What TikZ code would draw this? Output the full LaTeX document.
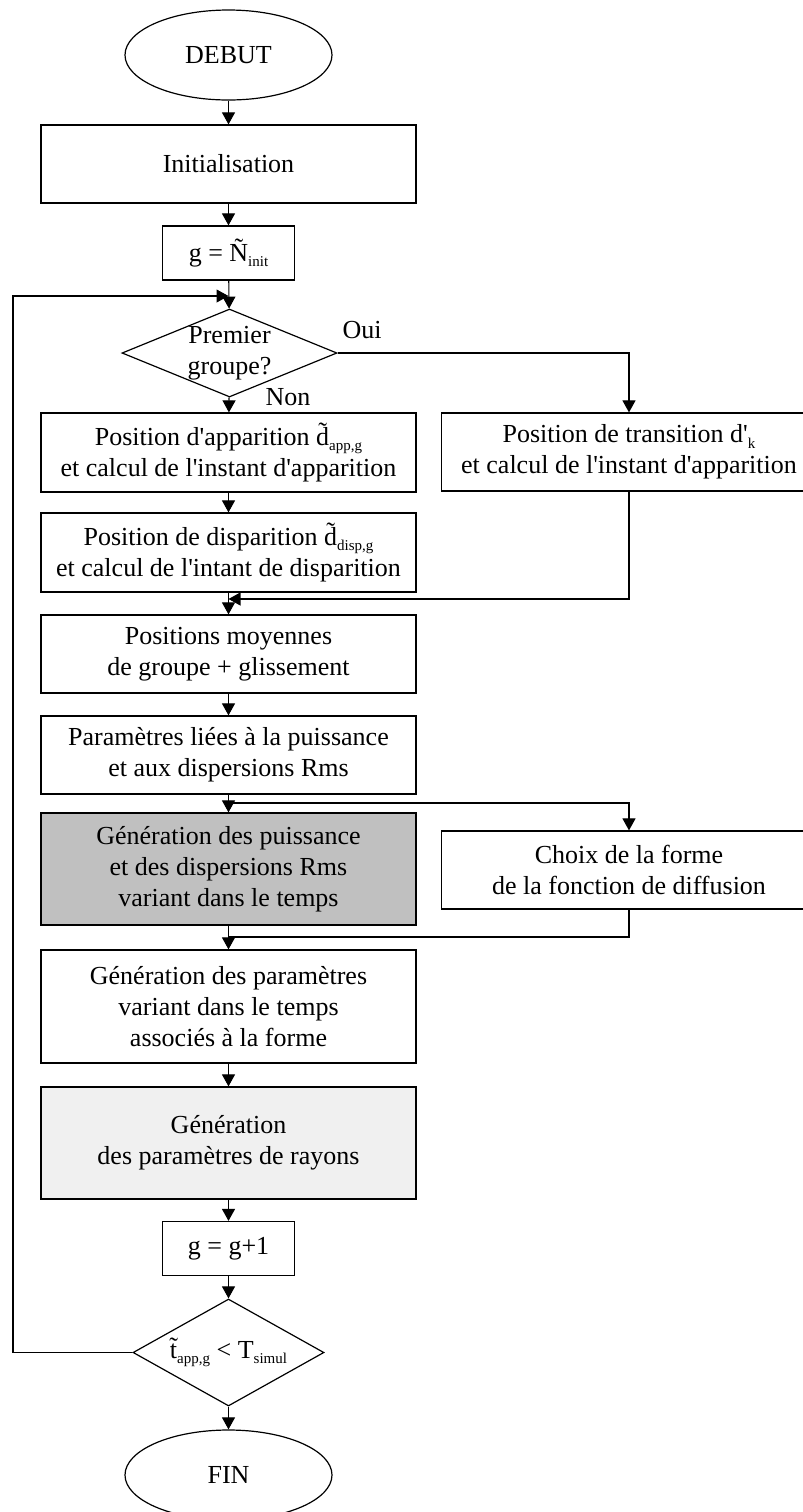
\documentclass[tikz,border=0pt]{standalone}
\usepackage{fontspec}
\setmainfont{Liberation Serif}
\usepackage{xcolor}
\usepackage{tikz}
\usetikzlibrary{positioning, arrows.meta, shapes.geometric}

\definecolor{boxdark}{RGB}{192,192,192}
\definecolor{boxlight}{RGB}{240,240,240}
\newcommand\tld[1]{{\accent"02DC #1}}
\newcommand\lowidx[1]{\raisebox{-0.45ex}{\fontsize{7.5}{8}\selectfont #1}}
\newcommand\apos{\textquotesingle}

\begin{document}
\begin{tikzpicture}[
  x=0.5pt, y=-0.5pt,
  font=\fontsize{13}{15.5}\selectfont,
  proc/.style={rectangle, draw, fill=white, line width=0.6pt,
               minimum width=187.5pt, minimum height=39pt, align=center,
               inner sep=2pt},
  small/.style={rectangle, draw, fill=white, line width=0.6pt,
                minimum width=66pt, minimum height=27pt, inner sep=2pt},
  term/.style={ellipse, draw, line width=0.6pt, minimum width=103.5pt,
               minimum height=45pt, inner sep=0pt},
  decision/.style={diamond, draw, line width=0.6pt, inner sep=0pt},
  arrow/.style={-{Triangle[length=6pt, width=6.5pt]}, line width=0.55pt},
  line/.style={line width=0.55pt},
]
\useasboundingbox (0,0) rectangle (803,1512);

\node[term] at (228.5, 55) (debut) {DEBUT};
\node[proc] at (228.5, 164) (init) {Initialisation};
\node[small] at (228.5, 253) (gN) {g = \tld{N}\lowidx{init}};

\node[decision, minimum width=107.5pt, minimum height=44pt,
      label={[align=center]center:Premier\\groupe?}] at (229.5, 353) (prem) {};
\node at (362, 330) (oui) {Oui};
\node at (288, 397) (non) {Non};

\node[proc, minimum height=39.5pt] at (228.5, 452.5) (app)
  {Position d\apos apparition \tld{d}\lowidx{app,g}\\et calcul de l\apos instant d\apos apparition};
\node[proc] at (629, 452) (trans)
  {Position de transition d\apos\lowidx{k}\\et calcul de l\apos instant d\apos apparition};
\node[proc, minimum height=39.5pt] at (228.5, 552.5) (disp)
  {Position de disparition \tld{d}\lowidx{disp,g}\\et calcul de l\apos intant de disparition};
\node[proc] at (228.5, 654) (moy) {Positions moyennes\\de groupe + glissement};
\node[proc] at (228.5, 755) (param)
  {Paramètres liées à la puissance\\et aux dispersions Rms};
\node[proc, fill=boxdark, minimum height=56pt] at (228.5, 869) (genp)
  {Génération des puissance\\et des dispersions Rms\\ variant dans le temps};
\node[proc] at (629, 870) (choix) {Choix de la forme\\de la fonction de diffusion};
\node[proc, minimum height=56.5pt] at (228.5, 1006.5) (genv)
  {Génération des paramètres\\variant dans le temps\\associés à la forme};
\node[proc, fill=boxlight, minimum height=56pt] at (228.5, 1143) (rayons)
  {Génération\\des paramètres de rayons};
\node[small] at (228.5, 1248.5) (gg) {g = g+1};
\node[decision, minimum width=95.5pt, minimum height=53.5pt,
      label={center:\tld{t}\lowidx{app,g} < T\lowidx{simul}}] at (228.5, 1352.5) (test) {};
\node[term] at (228.5, 1475) (fin) {FIN};

\coordinate (loopin) at (228.5, 296);
\coordinate (loopleft) at (13, 1352.5);
\coordinate (mergeA) at (228.5, 599);
\coordinate (split) at (228.5, 803);
\coordinate (mergeB) at (228.5, 937);

\draw[arrow] (debut) -- (init);
\draw[arrow] (init) -- (gN);
\draw[arrow] (gN) -- (prem);
\draw[arrow] (test.west) -- (loopleft) |- (loopin);
\draw[arrow] (prem) -- (app);
\draw[arrow] (prem.east) -| (trans.north);
\draw[arrow] (app) -- (disp);
\draw[arrow] (trans.south) |- (mergeA);
\draw[arrow] (disp) -- (moy);
\draw[arrow] (moy) -- (param);
\draw[arrow] (param) -- (genp);
\draw[arrow] (split) -| (choix.north);
\draw[line] (choix.south) |- (mergeB);
\draw[arrow] (genp) -- (genv);
\draw[arrow] (genv) -- (rayons);
\draw[arrow] (rayons) -- (gg);
\draw[arrow] (gg) -- (test);
\draw[arrow] (test) -- (fin);
\end{tikzpicture}
\end{document}
